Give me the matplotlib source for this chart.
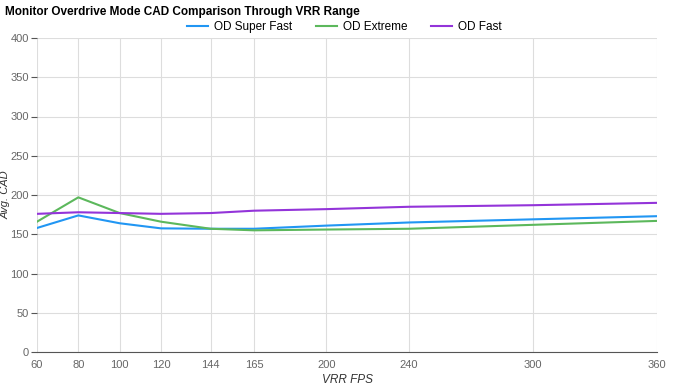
import matplotlib
matplotlib.use('Agg')
import matplotlib.pyplot as plt

plt.rcParams['font.family'] = ['Liberation Sans', 'DejaVu Sans']

# Данные
fps = [60, 80, 100, 120, 144, 165, 200, 240, 300, 360]
od_super_fast = [158, 174, 164, 157.5, 157, 157, 161, 165, 169, 173]
od_extreme = [166, 197, 177, 166, 157, 155, 156, 157, 162, 167]
od_fast = [176, 178, 177, 176, 177, 180, 182, 185, 187, 190]

series = [
    ("OD Super Fast", od_super_fast, '#2196f3'),
    ("OD Extreme", od_extreme, '#5cb85c'),
    ("OD Fast", od_fast, '#9334d9'),
]

fig = plt.figure(figsize=(6.75, 3.9), dpi=100)
ax = fig.add_axes([37 / 675, 1 - 352 / 390, 620 / 675, 314 / 390])

for name, vals, col in series:
    ax.plot(fps, vals, color=col, linewidth=1.5, label=name)

ax.set_xlim(60, 360)
ax.set_ylim(0, 400)
ax.set_xticks(fps)
ax.set_yticks(range(0, 401, 50))
ax.grid(True, color='#dddddd', linewidth=0.8)
ax.set_axisbelow(True)
for s in ['top', 'right', 'left']:
    ax.spines[s].set_visible(False)
ax.spines['bottom'].set_color('#555555')
ax.tick_params(colors='#666666', labelsize=8, length=3)
ax.tick_params(axis='y', length=4, color='#555555', pad=2)
ax.tick_params(axis='x', length=0, pad=6)

# Подписи осей
fig.text(347 / 675, 1 - 380 / 390, 'VRR FPS', fontsize=8.5, style='italic',
         color='#333333', ha='center', va='center')
fig.text(6 / 675, 1 - 195 / 390, 'Avg. CAD', fontsize=8, style='italic',
         color='#333333', ha='center', va='center', rotation=90)

fig.text(5 / 675, 1 - 12 / 390, 'Monitor Overdrive Mode CAD Comparison Through VRR Range',
         fontsize=8.5, fontweight='bold', va='center', ha='left')
fig.legend(loc='center', bbox_to_anchor=(0.51, 1 - 27 / 390), ncol=3, frameon=False,
           fontsize=8.5, handlelength=1.8, columnspacing=2.0, handletextpad=0.5)

fig.savefig('out.png', dpi=100)
